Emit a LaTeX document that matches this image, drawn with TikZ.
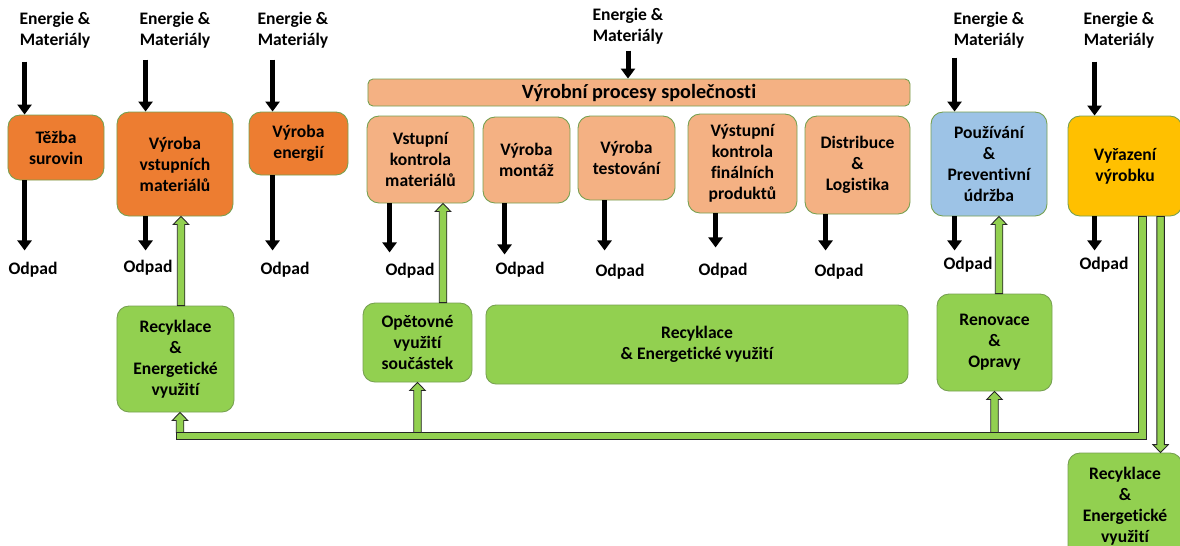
\documentclass[tikz,border=0pt]{standalone}
\usepackage{fontspec}
\setmainfont{Carlito}[Ligatures=NoCommon]
\usetikzlibrary{arrows.meta,calc,positioning}

\definecolor{orangeD}{HTML}{ED7D31}
\definecolor{orangeL}{HTML}{F4B183}
\definecolor{blueL}{HTML}{9DC3E6}
\definecolor{yellowB}{HTML}{FFC000}
\definecolor{greenB}{HTML}{92D050}
\definecolor{boxline}{HTML}{76A050}

% fat green arrow, #1 = start, #2 = tip
\newcommand{\fatarrow}[2]{%
  \path ($(#2)!1.6mm!(#1)$) coordinate (hb);
  \draw[pipe] ($(#1)+(-0.75mm,0pt)$) -- ($(hb)+(-0.75mm,0pt)$) -- ($(hb)+(-1.55mm,0pt)$) -- (#2)
    -- ($(hb)+(1.55mm,0pt)$) -- ($(hb)+(0.75mm,0pt)$) -- ($(#1)+(0.75mm,0pt)$) -- cycle;}

\begin{document}
\begin{tikzpicture}[
    x = 0.2mm, y = -0.2mm, % one unit = one pixel of the sketch
    box/.style = {draw = boxline, line width = 0.5pt, rounded corners = 2.4mm,
      align = center, inner sep = 1pt, font = \fontsize{10pt}{12pt}\selectfont\bfseries},
    lbl/.style = {align = center, inner sep = 0pt, font = \fontsize{10pt}{12pt}\selectfont\bfseries},
    blk/.style = {draw = black, line width = 1mm, -{Triangle[length=2mm,width=2.8mm]}},
    pipe/.style = {fill = greenB, draw = black!85, line width = 0.5pt, line join = miter}
    ]
    \useasboundingbox (0,0) rectangle (1180,546);

    % life cycle boxes
    \node[box, fill=orangeD, minimum width=19.2mm, minimum height=13mm] (tezba) at (56,147.5) {Těžba\\surovin};
    \node[box, fill=orangeD, minimum width=23.2mm, minimum height=20.8mm] (vyrvst) at (175,164) {Výroba\\vstupních\\materiálů};
    \node[box, fill=orangeD, minimum width=19.8mm, minimum height=12.6mm] (vyren) at (298.5,143.5) {Výroba\\energií};
    \node[box, fill=orangeL, rounded corners=1mm, minimum width=108.4mm, minimum height=5.4mm,
      font=\fontsize{11.5pt}{14pt}\selectfont\bfseries] (procesy) at (639,92.5) {Výrobní procesy společnosti};
    \node[box, fill=orangeL, minimum width=21.4mm, minimum height=17.4mm] (vstkon) at (420.5,159.5) {Vstupní\\kontrola\\materiálů};
    \node[box, fill=orangeL, minimum width=17.4mm, minimum height=17.2mm] (montaz) at (526.5,160) {Výroba\\montáž};
    \node[box, fill=orangeL, minimum width=19.4mm, minimum height=16.8mm] (test) at (626.5,158) {Výroba\\testování};
    \node[box, fill=orangeL, minimum width=21.8mm, minimum height=19.8mm] (vystkon) at (742.5,163.5) {Výstupní\\kontrola\\finálních\\produktů};
    \node[box, fill=orangeL, minimum width=21mm, minimum height=19.6mm] (distr) at (857.5,165) {Distribuce\\\&\\Logistika};
    \node[box, fill=blueL, minimum width=23.2mm, minimum height=20.8mm] (pouz) at (989,164) {Používání\\\&\\Preventivní\\údržba};
    \node[box, fill=yellowB, minimum width=22.8mm, minimum height=20mm] (vyraz) at (1125,166) {Vyřazení\\výrobku};

    % recovery boxes
    \node[box, fill=greenB, minimum width=23.4mm, minimum height=21.2mm] (rec1) at (175.5,359) {Recyklace\\\&\\Energetické\\využití};
    \node[box, fill=greenB, minimum width=21.8mm, minimum height=15.8mm] (opet) at (417.5,342.5) {Opětovné\\využití\\součástek};
    \node[box, fill=greenB, rounded corners=2mm, minimum width=84.4mm, minimum height=15.8mm] (rec2) at (697,344.5) {Recyklace\\\& Energetické využití};
    \node[box, fill=greenB, minimum width=23mm, minimum height=19.4mm] (renov) at (994.5,342.5) {Renovace\\\&\\Opravy};
    \node[box, fill=greenB, minimum width=22.8mm, minimum height=21.4mm] (rec3) at (1125,506.5) {Recyklace\\\&\\Energetické\\využití};

    % inputs
    \node[lbl] (en1) at (55,30) {Energie \&\\Materiály};
    \node[lbl] (en2) at (175,30) {Energie \&\\Materiály};
    \node[lbl] (en3) at (293,30) {Energie \&\\Materiály};
    \node[lbl] (en4) at (628,26) {Energie \&\\Materiály};
    \node[lbl] (en5) at (989,30) {Energie \&\\Materiály};
    \node[lbl] (en6) at (1119,30) {Energie \&\\Materiály};

    \draw[blk] ([xshift=3.4mm,yshift=10.6mm]tezba.north west) -- ([xshift=3.4mm]tezba.north west);
    \draw[blk] ([xshift=5.8mm,yshift=10.4mm]vyrvst.north west) -- ([xshift=5.8mm]vyrvst.north west);
    \draw[blk] ([xshift=4.8mm,yshift=10.4mm]vyren.north west) -- ([xshift=4.8mm]vyren.north west);
    \draw[blk] ([xshift=-2.2mm,yshift=5.6mm]procesy.north) -- ([xshift=-2.2mm]procesy.north);
    \draw[blk] ([xshift=4.8mm,yshift=10.8mm]pouz.north west) -- ([xshift=4.8mm]pouz.north west);
    \draw[blk] ([xshift=5.4mm,yshift=10.8mm]vyraz.north west) -- ([xshift=5.4mm]vyraz.north west);

    % waste
    \node[lbl] (od1) at (33,270) {Odpad};
    \node[lbl] (od2) at (148,268) {Odpad};
    \node[lbl] (od3) at (285,270) {Odpad};
    \node[lbl] (od4) at (410,271) {Odpad};
    \node[lbl] (od5) at (520,270) {Odpad};
    \node[lbl] (od6) at (620,272) {Odpad};
    \node[lbl] (od7) at (723,271) {Odpad};
    \node[lbl] (od8) at (839,272) {Odpad};
    \node[lbl] (od9) at (968,265) {Odpad};
    \node[lbl] (od10) at (1104,265) {Odpad};

    \draw[blk] ([xshift=3.4mm]tezba.south west) -- ++(0,70);
    \draw[blk] ([xshift=5.8mm]vyrvst.south west) -- ++(0,34);
    \draw[blk] ([xshift=4.8mm]vyren.south west) -- ++(0,75);
    \draw[blk] ([xshift=4.6mm]vstkon.south west) -- ++(0,49);
    \draw[blk] ([xshift=4.4mm]montaz.south west) -- ++(0,51);
    \draw[blk] ([xshift=5.4mm]test.south west) -- ++(0,50);
    \draw[blk] ([xshift=5.6mm]vystkon.south west) -- ++(0,34);
    \draw[blk] ([xshift=4.2mm]distr.south west) -- ++(0,36);
    \draw[blk] ([xshift=4.8mm]pouz.south west) -- ++(0,34);
    \draw[blk] ([xshift=5.4mm]vyraz.south west) -- ++(0,34);

    % return pipe
    \coordinate (pend) at (176,436);
    \coordinate (btop) at ($(pend)+(0pt,0.7mm)$);
    \coordinate (p1) at ($(vyraz.south west)+(14.9mm,0pt)$);
    \coordinate (p2) at ($(vyraz.south west)+(18.6mm,0pt)$);
    \draw[pipe] ($(p1)+(-0.8mm,0pt)$) |- ($(pend)+(0pt,0.7mm)$) -- ($(pend)+(0pt,-0.7mm)$) -| ($(p1)+(0.8mm,0pt)$) -- cycle;
    \fatarrow{p2}{p2 |- rec3.north}

    \coordinate (b1) at ($(rec1.south)+(0.9mm,0pt)$);
    \coordinate (b2) at (opet.south);
    \coordinate (b3) at (renov.south);
    \fatarrow{b1 |- btop}{b1}
    \fatarrow{b2 |- btop}{b2}
    \fatarrow{b3 |- btop}{b3}

    \coordinate (g1) at ($(rec1.north)+(1.1mm,0pt)$);
    \coordinate (g2) at ($(opet.north)+(5.1mm,0pt)$);
    \coordinate (g3) at ($(renov.north)+(0.9mm,0pt)$);
    \fatarrow{g1}{g1 |- vyrvst.south}
    \fatarrow{g2}{g2 |- vstkon.south}
    \fatarrow{g3}{g3 |- pouz.south}
\end{tikzpicture}
\end{document}
